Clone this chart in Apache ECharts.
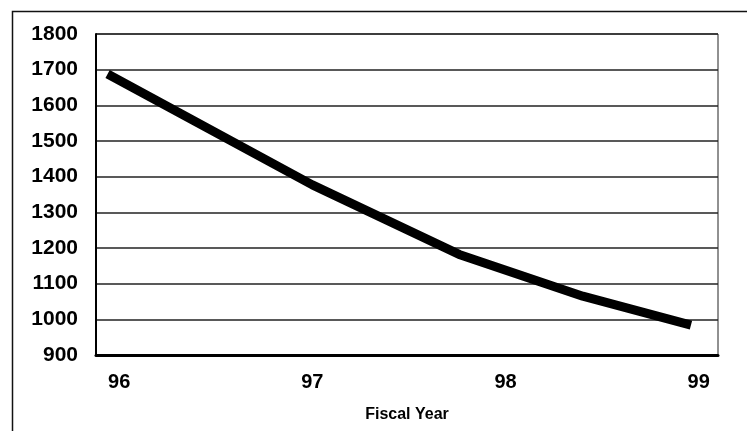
<!DOCTYPE html>
<html>
<head>
<meta charset="utf-8">
<script src="https://cdn.jsdelivr.net/npm/echarts@6/dist/echarts.min.js"></script>
<style>
html,body{margin:0;padding:0;background:#fff;}
#c{width:747px;height:431px;}
</style>
</head>
<body>
<div id="c"></div>
<script>
// Data
var xTickLabels = [96, 97, 98, 99];
var xValues = [95.94, 97.00, 97.76, 98.40, 98.96];
var yValues = [1688, 1377, 1182, 1065, 984];
var yMin = 900, yMax = 1800, yStep = 100;
var xName = 'Fiscal Year';

var points = xValues.map(function (x, i) { return [x, yValues[i]]; });
var font = "'Liberation Sans', Arial, sans-serif";

var chart = echarts.init(document.getElementById('c'), null, {renderer: 'canvas'});
chart.setOption({
  animation: false,
  backgroundColor: '#fff',
  graphic: [{
    type: 'rect',
    shape: {x: 12.5, y: 11.5, width: 800, height: 500},
    style: {fill: 'none', stroke: '#111', lineWidth: 1.5},
    z: 0
  }],
  grid: {
    left: 96, right: 29, top: 34, bottom: 76,
    show: true, borderColor: '#222', borderWidth: 1, backgroundColor: '#fff'
  },
  xAxis: {
    type: 'value',
    min: 95.88, max: 99.1,
    name: xName,
    nameLocation: 'middle',
    nameGap: 52,
    nameTextStyle: {fontFamily: font, fontWeight: 'bold', fontSize: 16, color: '#000'},
    axisLine: {show: true, onZero: false, lineStyle: {color: '#000', width: 3}},
    axisTick: {show: false},
    splitLine: {show: false},
    axisLabel: {
      customValues: xTickLabels,
      formatter: function (v) { return String(Math.round(v)); },
      fontFamily: font, fontWeight: 'bold', fontSize: 20, color: '#000', margin: 17
    }
  },
  yAxis: {
    type: 'value',
    min: yMin, max: yMax, interval: yStep,
    axisLine: {show: true, lineStyle: {color: '#000', width: 2}},
    axisTick: {show: false},
    splitLine: {show: true, lineStyle: {color: '#222', width: 1.5}},
    axisLabel: {
      formatter: function (v) { return String(v); },
      fontFamily: font, fontWeight: 'bold', fontSize: 21, color: '#000', margin: 18
    }
  },
  series: [{
    type: 'line',
    data: points,
    symbol: 'none',
    lineStyle: {color: '#000', width: 9, cap: 'butt', join: 'bevel'},
    z: 5
  }]
});
</script>
</body>
</html>
